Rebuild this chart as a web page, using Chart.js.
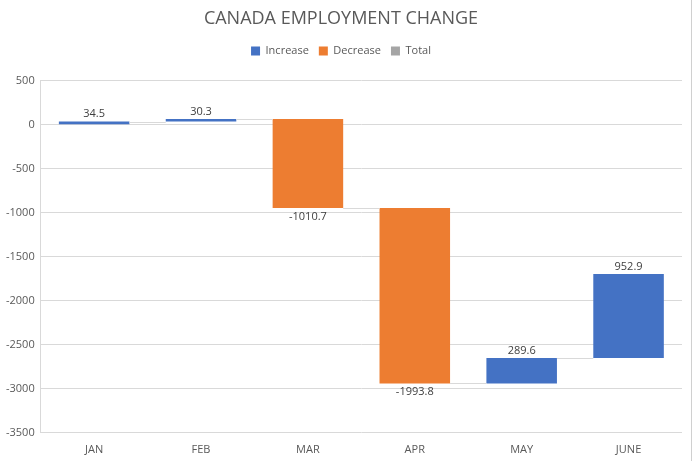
<!DOCTYPE html>
<html><head><meta charset="utf-8">
<script src="https://cdn.jsdelivr.net/npm/chart.js"></script>
<style>html,body{margin:0;padding:0;background:#fff;}#wrap{width:695px;height:461px;position:relative;}</style>
</head><body><div id="wrap"><canvas id="c"></canvas></div>
<script>
const categories = ["JAN","FEB","MAR","APR","MAY","JUNE"];
const changes = [34.5, 30.3, -1010.7, -1993.8, 289.6, 952.9];
const yTicks = [500, 0, -500, -1000, -1500, -2000, -2500, -3000, -3500];

const starts = [], ends = [];
let run = 0;
changes.forEach(v => { starts.push(run); run += v; ends.push(run); });
const incData = changes.map((v,i) => v >= 0 ? [starts[i], ends[i]] : null);
const decData = changes.map((v,i) => v < 0 ? [starts[i], ends[i]] : null);
const totData = changes.map(() => null);

const FONT = "'Segoe UI', 'Open Sans', 'DejaVu Sans', sans-serif";

const legendSpacer = {
  id: 'legendSpacer',
  beforeInit(chart) {
    const orig = chart.legend.fit;
    chart.legend.fit = function() { orig.call(this); this.height += 14; };
  }
};

const waterfallPlugin = {
  id: 'waterfall',
  afterDatasetsDraw(chart) {
    const ctx = chart.ctx, y = chart.scales.y;
    const metas = [chart.getDatasetMeta(0), chart.getDatasetMeta(1)];
    const bars = categories.map((c,i) => changes[i] >= 0 ? metas[0].data[i] : metas[1].data[i]);
    ctx.save();
    ctx.strokeStyle = '#D9D9D9';
    ctx.lineWidth = 1;
    for (let i = 0; i < bars.length - 1; i++) {
      const a = bars[i], b = bars[i+1];
      const yy = Math.round(y.getPixelForValue(ends[i])) + 0.5;
      ctx.beginPath();
      ctx.moveTo(a.x + a.width/2, yy);
      ctx.lineTo(b.x - b.width/2, yy);
      ctx.stroke();
    }
    ctx.fillStyle = '#404040';
    ctx.font = "11px " + FONT;
    ctx.textAlign = 'center';
    bars.forEach((b,i) => {
      const v = changes[i];
      if (v >= 0) {
        ctx.textBaseline = 'bottom';
        ctx.fillText(v.toFixed(1), b.x, y.getPixelForValue(ends[i]) - 2);
      } else {
        ctx.textBaseline = 'top';
        ctx.fillText(v.toFixed(1), b.x, y.getPixelForValue(ends[i]) + 3);
      }
    });
    ctx.strokeStyle = '#D0D0D0';
    ctx.beginPath();
    ctx.moveTo(691.5, 0); ctx.lineTo(691.5, 461);
    ctx.stroke();
    ctx.restore();
  }
};

new Chart(document.getElementById('c'), {
  type: 'bar',
  data: {
    labels: categories,
    datasets: [
      { label: 'Increase', data: incData, backgroundColor: '#4472C4', grouped: false, barPercentage: 0.66, categoryPercentage: 1 },
      { label: 'Decrease', data: decData, backgroundColor: '#ED7D31', grouped: false, barPercentage: 0.66, categoryPercentage: 1 },
      { label: 'Total', data: totData, backgroundColor: '#A5A5A5', grouped: false, barPercentage: 0.66, categoryPercentage: 1 }
    ]
  },
  options: {
    responsive: true,
    maintainAspectRatio: false,
    animation: false,
    devicePixelRatio: 1,
    layout: { padding: { left: 0, right: 13, top: 6, bottom: 3 } },
    plugins: {
      title: { display: true, text: 'CANADA EMPLOYMENT CHANGE', color: '#595959',
        font: { family: FONT, size: 18, weight: 'normal' }, padding: { top: 2, bottom: 6 } },
      legend: { display: true, position: 'top',
        labels: { color: '#595959', boxWidth: 9, boxHeight: 9, padding: 10, font: { family: FONT, size: 11 } } },
      tooltip: { enabled: false }
    },
    scales: {
      x: {
        grid: { display: false },
        border: { display: false },
        ticks: { color: '#595959', font: { family: FONT, size: 11 }, padding: 2 }
      },
      y: {
        min: -3500, max: 500,
        afterBuildTicks(axis) { axis.ticks = yTicks.map(v => ({ value: v })); },
        grid: { color: '#D9D9D9', drawTicks: false },
        border: { display: true, color: '#D9D9D9' },
        ticks: { color: '#595959', font: { family: FONT, size: 11 }, padding: 6,
          callback: (v) => String(v) }
      }
    }
  },
  plugins: [legendSpacer, waterfallPlugin]
});
</script></body></html>
